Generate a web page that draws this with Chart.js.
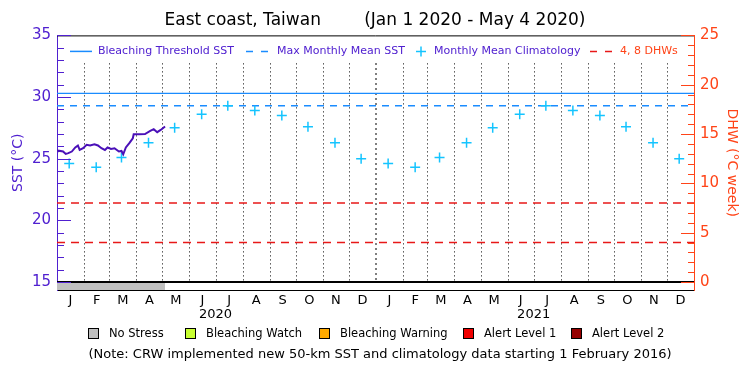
<!DOCTYPE html>
<html>
<head>
<meta charset="utf-8">
<script src="https://cdn.jsdelivr.net/npm/chart.js@4.4.1/dist/chart.umd.min.js"></script>
<style>
    html, body { margin: 0; padding: 0; background: #fff; }
    #myChartSst { display: block; }
</style>
</head>
<body>
<canvas id="myChartSst" width="750" height="375"></canvas>
<script>
const monthLetters = ['J', 'F', 'M', 'A', 'M', 'J', 'J', 'A', 'S', 'O', 'N', 'D'];
const years = [2020, 2021];
// daily SST (days since Jan 1 2020)
const sstDays = [0, 1, 7, 10, 13, 17, 21, 24, 26, 30, 34, 38, 43, 47, 51, 55, 58, 62, 66, 71, 74, 76, 79, 83, 87, 88, 94, 101, 107, 111, 115, 119, 124];
const sstValues = [25.71, 25.66, 25.58, 25.39, 25.45, 25.58, 25.91, 26.07, 25.71, 25.85, 26.12, 26.07, 26.17, 26.07, 25.85, 25.71, 25.91, 25.79, 25.85, 25.58, 25.63, 25.36, 25.91, 26.26, 26.66, 26.98, 26.98, 27.0, 27.25, 27.39, 27.15, 27.33, 27.61];
const climatology = [24.6, 24.3, 25.1, 26.3, 27.5, 28.6, 29.3, 28.9, 28.5, 27.6, 26.3, 25.0];
const bleachingThreshold = 30.3;
const maxMonthlyMean = 29.3;
const dhwLevels = [4, 8];
const noStressDays = [0, 124];
const stressLabels = ['No Stress', 'Bleaching Watch', 'Bleaching Warning', 'Alert Level 1', 'Alert Level 2'];
const stressColors = ['#c0c0c0', '#c8ff32', '#ffaa00', '#f00000', '#960000'];
const sstTicks = [15, 20, 25, 30, 35];
const dhwTicks = [0, 5, 10, 15, 20, 25];

const roxo = '#5020d0';
const laranja = '#ff4418';
const azul = '#1a8cff';
const ciano = '#14c4ff';
const vermelho = '#e81818';
const fonte = '"DejaVu Sans", sans-serif';

function dia(ano, mes, d) {
    return (Date.UTC(ano, mes, d) - Date.UTC(2020, 0, 1)) / 86400000;
}
const totalDias = dia(2022, 0, 1);

const meioMes = [];
const inicioMes = [];
years.forEach(ano => {
    for (let m = 0; m < 12; m++) {
        meioMes.push((dia(ano, m, 1) + dia(ano, m + 1, 1)) / 2);
        if (dia(ano, m, 1) > 0) inicioMes.push(dia(ano, m, 1));
    }
});

const linhaH = (v) => [{ x: 0, y: v }, { x: totalDias, y: v }];

const dataSst = {
    datasets: [
        {
            label: 'SST',
            data: sstDays.map((d, i) => ({ x: d, y: sstValues[i] })),
            borderColor: '#4a10b8',
            borderWidth: 2,
            pointRadius: 0,
            yAxisID: 'ySst'
        },
        {
            label: 'Monthly Mean Climatology',
            data: years.flatMap(ano => climatology.map((v, m) => ({ x: dia(ano, m, 15), y: v }))),
            showLine: false,
            pointStyle: 'cross',
            pointRadius: 5,
            borderColor: ciano,
            borderWidth: 1.5,
            yAxisID: 'ySst'
        },
        {
            label: 'Bleaching Threshold SST',
            data: linhaH(bleachingThreshold),
            borderColor: azul,
            borderWidth: 1.2,
            pointRadius: 0,
            yAxisID: 'ySst'
        },
        {
            label: 'Max Monthly Mean SST',
            data: linhaH(maxMonthlyMean),
            borderColor: azul,
            borderWidth: 1.6,
            borderDash: [7, 6],
            pointRadius: 0,
            yAxisID: 'ySst'
        },
        ...dhwLevels.map(v => ({
            label: v + ' DHW',
            data: linhaH(v),
            borderColor: vermelho,
            borderWidth: 1.5,
            borderDash: [8, 6],
            pointRadius: 0,
            yAxisID: 'yDhw'
        })),
        {
            label: 'DHW',
            data: linhaH(0),
            borderColor: '#000',
            borderWidth: 2,
            pointRadius: 0,
            yAxisID: 'yDhw'
        },
        {
            label: stressLabels[0],
            data: noStressDays.map(d => ({ x: d, y: 15 })),
            borderWidth: 0,
            pointRadius: 0,
            backgroundColor: stressColors[0],
            fill: 'start',
            yAxisID: 'ySst'
        }
    ]
};

// dotted month lines, inward ticks, legends and notes
const decoracao = {
    id: 'decoracao',
    beforeDatasetsDraw(chart) {
        const { ctx, chartArea, scales } = chart;
        ctx.save();
        ctx.strokeStyle = '#000';
        inicioMes.forEach(d => {
            const ano = d === dia(2021, 0, 1);
            const x = Math.round(scales.x.getPixelForValue(d)) + (ano ? 0 : 0.5);
            ctx.lineWidth = ano ? 2 : 1;
            ctx.setLineDash(ano ? [1, 4] : [1, 3]);
            ctx.beginPath();
            ctx.moveTo(x, chartArea.top + 28);
            ctx.lineTo(x, scales.yDhw.getPixelForValue(0));
            ctx.stroke();
        });
        ctx.restore();
    },
    afterDraw(chart) {
        const { ctx, chartArea, scales } = chart;
        const a = chartArea;
        ctx.save();
        ctx.lineWidth = 1;
        ctx.strokeStyle = '#000';
        ctx.beginPath();
        ctx.moveTo(a.left, a.top + 0.5);
        ctx.lineTo(a.right, a.top + 0.5);
        ctx.stroke();

        // ticks para dentro
        ctx.strokeStyle = roxo;
        for (let v = 15; v <= 35; v++) {
            const y = Math.round(scales.ySst.getPixelForValue(v)) + 0.5;
            ctx.beginPath();
            ctx.moveTo(a.left, y);
            ctx.lineTo(a.left + (v % 5 === 0 ? 14 : 7), y);
            ctx.stroke();
        }
        ctx.strokeStyle = laranja;
        for (let v = 0; v <= 25; v++) {
            const y = Math.round(scales.yDhw.getPixelForValue(v)) + 0.5;
            ctx.beginPath();
            ctx.moveTo(a.right, y);
            ctx.lineTo(a.right - (v % 5 === 0 ? 13 : 6), y);
            ctx.stroke();
        }

        // anos
        ctx.fillStyle = '#000';
        ctx.font = '13px ' + fonte;
        ctx.textAlign = 'center';
        ctx.textBaseline = 'middle';
        years.forEach(ano => {
            ctx.fillText(String(ano), scales.x.getPixelForValue(dia(ano, 6, 1)), 315);
        });

        // legenda de cima
        const ly = a.top + 16;
        ctx.font = '11px ' + fonte;
        ctx.textAlign = 'left';
        ctx.lineWidth = 1.5;
        ctx.strokeStyle = azul;
        ctx.beginPath(); ctx.moveTo(70, ly); ctx.lineTo(92, ly); ctx.stroke();
        ctx.setLineDash([7, 8]);
        ctx.beginPath(); ctx.moveTo(246, ly); ctx.lineTo(268, ly); ctx.stroke();
        ctx.strokeStyle = vermelho;
        ctx.beginPath(); ctx.moveTo(590, ly); ctx.lineTo(615, ly); ctx.stroke();
        ctx.setLineDash([]);
        ctx.strokeStyle = ciano;
        ctx.lineWidth = 1.5;
        ctx.beginPath();
        ctx.moveTo(416, ly); ctx.lineTo(426, ly);
        ctx.moveTo(421, ly - 5); ctx.lineTo(421, ly + 5);
        ctx.stroke();
        ctx.fillStyle = roxo;
        ctx.fillText('Bleaching Threshold SST', 98, ly);
        ctx.fillText('Max Monthly Mean SST', 277, ly);
        ctx.fillText('Monthly Mean Climatology', 434, ly);
        ctx.fillStyle = laranja;
        ctx.fillText('4, 8 DHWs', 620, ly);

        // legenda de baixo
        const boxX = [88, 185, 319, 463, 571];
        ctx.font = '11.5px ' + fonte;
        ctx.lineWidth = 1;
        ctx.strokeStyle = '#000';
        stressLabels.forEach((txt, i) => {
            ctx.fillStyle = stressColors[i];
            ctx.fillRect(boxX[i], 328, 11, 11);
            ctx.strokeRect(boxX[i] + 0.5, 328.5, 10, 10);
            ctx.fillStyle = '#000';
            ctx.fillText(txt, boxX[i] + 21, 334);
        });
        ctx.font = '13px ' + fonte;
        ctx.textAlign = 'center';
        ctx.fillText('(Note: CRW implemented new 50-km SST and climatology data starting 1 February 2016)', 380, 355);
        ctx.restore();
    }
};

const ctxSst = document.getElementById('myChartSst');
const configSst = {
    type: 'line',
    data: dataSst,
    plugins: [decoracao],
    options: {
        responsive: false,
        animation: false,
        devicePixelRatio: 1,
        layout: { padding: 0 },
        plugins: {
            legend: { display: false },
            tooltip: { enabled: false },
            title: {
                display: true,
                text: 'East coast, Taiwan        (Jan 1 2020 - May 4 2020)',
                color: '#000',
                font: { family: fonte, size: 17, weight: 'normal' },
                padding: { top: 10, bottom: 5 }
            }
        },
        scales: {
            x: {
                type: 'linear',
                min: 0,
                max: totalDias,
                grid: { display: false, drawTicks: false },
                border: { display: true, color: '#000', width: 1 },
                afterBuildTicks: scale => { scale.ticks = meioMes.map(v => ({ value: v })); },
                afterFit: scale => { scale.height = 85; },
                ticks: {
                    autoSkip: false,
                    maxRotation: 0,
                    padding: 3,
                    color: '#000',
                    font: { family: fonte, size: 13 },
                    callback: (v, i) => monthLetters[i % 12]
                }
            },
            ySst: {
                type: 'linear',
                position: 'left',
                min: 14.35,
                max: 35,
                grid: { display: false, drawTicks: false },
                border: { display: true, color: roxo, width: 1 },
                afterBuildTicks: scale => { scale.ticks = sstTicks.map(v => ({ value: v })); },
                afterFit: scale => { scale.width = 57; },
                ticks: { padding: 6, color: roxo, font: { family: fonte, size: 15 } },
                title: {
                    display: true,
                    text: 'SST (°C)',
                    color: roxo,
                    font: { family: fonte, size: 14 },
                    padding: { top: 10, bottom: 0 }
                }
            },
            yDhw: {
                type: 'linear',
                position: 'right',
                min: -0.81,
                max: 25,
                grid: { display: false, drawTicks: false },
                border: { display: true, color: laranja, width: 1 },
                afterBuildTicks: scale => { scale.ticks = dhwTicks.map(v => ({ value: v })); },
                afterFit: scale => { scale.width = 56; },
                ticks: { padding: 6, color: laranja, font: { family: fonte, size: 15 } },
                title: {
                    display: true,
                    text: 'DHW (°C week)',
                    color: laranja,
                    font: { family: fonte, size: 14 },
                    padding: { top: 10, bottom: 0 }
                }
            }
        }
    }
};

new Chart(ctxSst, configSst);
</script>
</body>
</html>
